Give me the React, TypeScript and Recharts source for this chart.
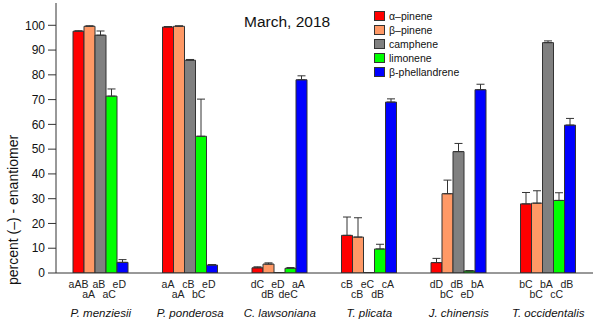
import { Bar, BarChart, ErrorBar, LabelList, XAxis, YAxis, Label } from 'recharts'

const species = ['P. menziesii', 'P. ponderosa', 'C. lawsoniana', 'T. plicata', 'J. chinensis', 'T. occidentalis']

const alphaPinene = [97.6, 99.3, 2.1, 15.2, 4.2, 27.9]
const alphaPineneErr = [0.2, 0.2, 0.4, 7.4, 1.7, 4.6]
const betaPinene = [99.6, 99.6, 3.6, 14.5, 32, 28.2]
const betaPineneErr = [0.2, 0.2, 0.5, 7.8, 5.5, 5]
// camphene is barely above zero in C. lawsoniana and T. plicata
const camphene = [96, 85.9, 0.2, 0.2, 49, 93]
const campheneErr = [1.7, 0.3, 0, 0, 3.3, 0.7]
const limonene = [71.4, 55.2, 1.9, 9.7, 0.8, 29.3]
const limoneneErr = [2.9, 15, 0.3, 1.9, 0.2, 3.1]
const phellandrene = [4.3, 3.2, 78, 69, 74, 59.7]
const phellandreneErr = [1.1, 0.2, 1.6, 1.3, 2.2, 2.7]

const alphaCodes = ['aAB', 'aA', 'dC', 'cB', 'dD', 'bC']
const betaCodes = ['aA', 'aA', 'dB', 'cB', 'bC', 'bC']
const campheneCodes = ['aB', 'cB', 'eD', 'eC', 'dB', 'bA']
const limoneneCodes = ['aC', 'bC', 'deC', 'dB', 'eD', 'cC']
const phellandreneCodes = ['eD', 'eD', 'aA', 'cA', 'bA', 'dB']

const yTicks = [0, 10, 20, 30, 40, 50, 60, 70, 80, 90, 100]

const font = '"Liberation Sans", Arial, sans-serif'

const series = [
  { key: 'alpha', name: 'α–pinene', color: '#ff0000', values: alphaPinene, errs: alphaPineneErr, codes: alphaCodes },
  { key: 'beta', name: 'β–pinene', color: '#ff9966', values: betaPinene, errs: betaPineneErr, codes: betaCodes },
  { key: 'camphene', name: 'camphene', color: '#808080', values: camphene, errs: campheneErr, codes: campheneCodes },
  { key: 'limonene', name: 'limonene', color: '#00ff00', values: limonene, errs: limoneneErr, codes: limoneneCodes },
  { key: 'phell', name: 'β-phellandrene', color: '#0000ff', values: phellandrene, errs: phellandreneErr, codes: phellandreneCodes },
]

const data = species.map((name, i) => {
  const row: Record<string, any> = { name }
  series.forEach((s) => {
    row[s.key] = s.values[i]
    row[s.key + 'Err'] = [0, s.errs[i]]
    row[s.key + 'Code'] = s.codes[i]
  })
  return row
})

// letter codes sit under each bar, alternating high/low like super/subscripts
function codeLabel(seriesIndex: number) {
  const upper = seriesIndex % 2 === 0
  return (props: any) => {
    const { x, y, width, height, value } = props
    const base = Number(y) + Number(height)
    return (
      <text
        x={Number(x) + Number(width) / 2 - 0.8 * seriesIndex}
        y={base + (upper ? 15 : 25)}
        textAnchor="middle"
        fontSize={10.5}
        fontFamily={font}
        fill="#222"
      >
        {value}
      </text>
    )
  }
}

function SpeciesTick({ x, y, payload }: any) {
  return (
    <text x={x} y={y + 42} textAnchor="middle" fontSize={11.5} fontStyle="italic" fontFamily={font} fill="#111">
      {payload.value}
    </text>
  )
}

function RightTick({ x, y }: any) {
  return <line x1={x - 7} x2={x} y1={y} y2={y} stroke="#333" />
}

function LegendBox() {
  return (
    <div style={{ position: 'absolute', left: 374, top: 9, fontFamily: font, fontSize: 10.5, color: '#111' }}>
      {series.map((s) => (
        <div key={s.key} style={{ display: 'flex', alignItems: 'center', height: 14 }}>
          <span style={{ width: 11, height: 10, background: s.color, border: '1px solid #333', boxSizing: 'border-box', marginRight: 4 }} />
          {s.name}
        </div>
      ))}
    </div>
  )
}

export default function App() {
  return (
    <div style={{ position: 'absolute', left: 0, top: 0, width: 600, height: 321, background: '#fff' }}>
      <BarChart
        width={600}
        height={321}
        data={data}
        margin={{ top: 3, right: 7, bottom: 0, left: 0 }}
        barCategoryGap="19%"
        barGap={0}
      >
        <XAxis
          dataKey="name"
          tick={<SpeciesTick />}
          tickLine={false}
          tickSize={0}
          height={48}
          interval={0}
          axisLine={{ stroke: '#333' }}
        />
        <XAxis xAxisId="top" dataKey="name" orientation="top" height={0} tick={false} tickLine={false} axisLine={{ stroke: '#333' }} />
        <YAxis
          domain={[0, 109]}
          ticks={yTicks}
          tickSize={8}
          tickMargin={3}
          width={56}
          allowDataOverflow
          tick={{ fontSize: 12, fontFamily: font, fill: '#111' }}
          tickLine={{ stroke: '#333' }}
          axisLine={{ stroke: '#333' }}
        >
          <Label
            value="percent (–) - enantiomer"
            angle={-90}
            position="insideLeft"
            offset={13}
            dy={72}
            style={{ fontSize: 14, fontFamily: font, fill: '#111', textAnchor: 'middle' }}
          />
        </YAxis>
        <YAxis
          yAxisId="right"
          orientation="right"
          domain={[0, 109]}
          ticks={yTicks}
          width={0}
          tickSize={0}
          tickMargin={0}
          tickLine={false}
          tick={<RightTick />}
          axisLine={{ stroke: '#333' }}
        />
        {series.map((s, si) => (
          <Bar
            key={s.key}
            dataKey={s.key}
            name={s.name}
            fill={s.color}
            stroke="#333"
            strokeWidth={1}
            isAnimationActive={false}
          >
            <ErrorBar dataKey={s.key + 'Err'} width={4} stroke="#333" strokeWidth={1} direction="y" />
            <LabelList dataKey={s.key + 'Code'} content={codeLabel(si)} />
          </Bar>
        ))}
      </BarChart>
      <LegendBox />
      <div
        style={{
          position: 'absolute',
          left: 244,
          top: 13,
          fontFamily: font,
          fontSize: 15.5,
          color: '#111',
          whiteSpace: 'nowrap',
        }}
      >
        March, 2018
      </div>
    </div>
  )
}
